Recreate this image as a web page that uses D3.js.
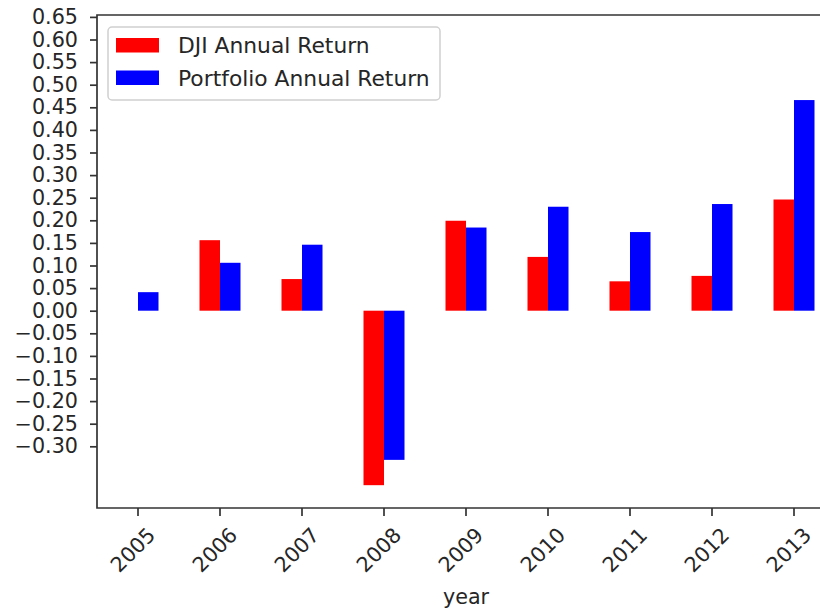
<!DOCTYPE html>
<meta charset="utf-8">
<style>
  body { margin: 0; background: #fff; }
  svg { display: block; font-family: "DejaVu Sans", sans-serif; }
  .tick text { fill: #262626; }
  .frame { fill: none; stroke: #333; stroke-width: 1.7px; }
</style>
<body>
<script src="https://cdn.jsdelivr.net/npm/d3@7"></script>
<script>

// data
var years = ["2005", "2006", "2007", "2008", "2009", "2010", "2011", "2012", "2013"];
var djiReturn = [null, 0.156, 0.070, -0.386, 0.199, 0.119, 0.065, 0.077, 0.246];
var portfolioReturn = [0.041, 0.106, 0.146, -0.330, 0.184, 0.230, 0.174, 0.236, 0.466];
var yTicks = [-0.30, -0.25, -0.20, -0.15, -0.10, -0.05, 0.00, 0.05, 0.10, 0.15,
              0.20, 0.25, 0.30, 0.35, 0.40, 0.45, 0.50, 0.55, 0.60, 0.65];
var seriesNames = ["DJI Annual Return", "Portfolio Annual Return"];
var seriesColors = ["#ff0000", "#0000ff"];

var W = 820, H = 611;
var plot = {left: 97, top: 15, right: 835, bottom: 508};

var svg = d3.select("body").append("svg")
    .attr("width", W)
    .attr("height", H);

var x = d3.scaleBand().domain(years).range([plot.left, plot.right]).padding(0);
var y = d3.scaleLinear().domain([-0.4365, 0.6542]).range([plot.bottom, plot.top]);

var bw = x.bandwidth() * 0.25;

// bars
var series = [djiReturn, portfolioReturn];
series.forEach(function(vals, s) {
  svg.append("g")
    .selectAll("rect")
    .data(years.map(function(yr, i) { return {year: yr, v: vals[i]}; })
                .filter(function(d) { return d.v != null; }))
    .enter().append("rect")
      .attr("x", function(d) { return x(d.year) + x.bandwidth() / 2 - bw + s * bw; })
      .attr("width", bw)
      .attr("y", function(d) { return y(Math.max(0, d.v)); })
      .attr("height", function(d) { return Math.abs(y(d.v) - y(0)); })
      .attr("fill", seriesColors[s]);
});

// frame
svg.append("path")
  .attr("class", "frame")
  .attr("d", "M" + plot.right + "," + plot.top + "H" + plot.left + "V" + plot.bottom + "H" + plot.right);

// y axis
var fmt = function(v) { return d3.format(".2f")(v).replace("-", "\u2212"); };
var yAxis = svg.append("g")
  .attr("transform", "translate(" + plot.left + ",0)")
  .call(d3.axisLeft(y).tickValues(yTicks).tickFormat(fmt).tickSize(7).tickPadding(12).tickSizeOuter(0));
yAxis.select(".domain").remove();
yAxis.selectAll(".tick line").attr("stroke", "#333").attr("stroke-width", 1.7);
yAxis.selectAll(".tick text").attr("font-size", 20.7).attr("font-family", "DejaVu Sans");

// x axis
var xAxis = svg.append("g")
  .attr("transform", "translate(0," + plot.bottom + ")")
  .call(d3.axisBottom(x).tickSize(8).tickSizeOuter(0));
xAxis.select(".domain").remove();
xAxis.selectAll(".tick line").attr("stroke", "#333").attr("stroke-width", 1.7);
xAxis.selectAll(".tick text")
  .attr("font-size", 20.7)
  .attr("font-family", "DejaVu Sans")
  .attr("text-anchor", "middle")
  .attr("dominant-baseline", "central")
  .attr("y", null).attr("dy", null)
  .attr("transform", "translate(-5,42) rotate(-45)");

svg.append("text")
  .attr("x", (plot.left + plot.right) / 2)
  .attr("y", 604)
  .attr("text-anchor", "middle")
  .attr("font-size", 20.7)
  .attr("fill", "#262626")
  .text("year");

// legend
var legend = svg.append("g").attr("transform", "translate(108,27)");
legend.append("rect")
  .attr("width", 332).attr("height", 73)
  .attr("rx", 4)
  .attr("fill", "#fff").attr("fill-opacity", 0.8)
  .attr("stroke", "#d0d0d0").attr("stroke-width", 1.5);
seriesNames.forEach(function(name, i) {
  var g = legend.append("g").attr("transform", "translate(0," + (i * 32.5) + ")");
  g.append("rect")
    .attr("x", 8).attr("y", 11).attr("width", 43).attr("height", 14.5)
    .attr("fill", seriesColors[i]);
  g.append("text")
    .attr("x", 70).attr("y", 18.5)
    .attr("dominant-baseline", "central")
    .attr("font-size", 21.8)
    .attr("fill", "#262626")
    .text(name);
});

</script>
</body>
